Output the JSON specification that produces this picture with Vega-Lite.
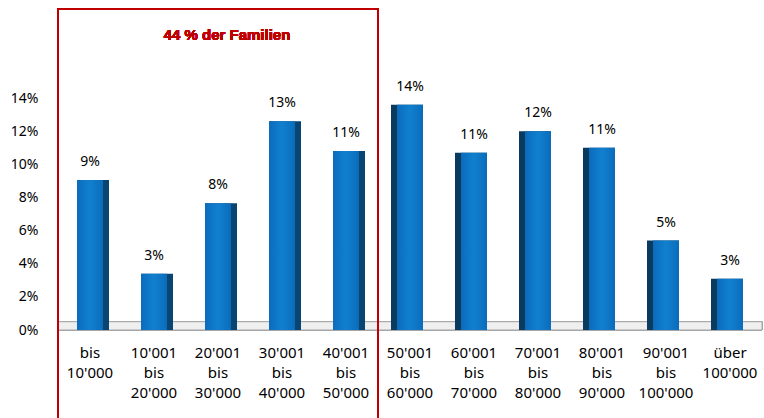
{
  "$schema": "https://vega.github.io/schema/vega-lite/v6.json",
  "width": 704,
  "height": 232,
  "autosize": {"type": "none"},
  "padding": {"left": 58, "top": 98, "right": 2, "bottom": 88},
  "background": "white",
  "config": {
    "view": {"stroke": null},
    "font": "Noto Sans",
    "axisX": {
      "title": null,
      "labelAngle": 0,
      "labelExpr": "split(datum.label, '|')",
      "domain": false,
      "ticks": false,
      "grid": false,
      "labelPadding": 15,
      "labelFontSize": 15,
      "labelLineHeight": 20,
      "labelColor": "#000000",
      "labelOverlap": false,
      "labelBaseline": "top",
      "labelFont": "Noto Sans"
    },
    "axisY": {
      "title": null,
      "format": ".0%",
      "values": [0, 0.02, 0.04, 0.06, 0.08, 0.1, 0.12, 0.14],
      "grid": false,
      "ticks": false,
      "domainColor": "#a6a6a6",
      "labelPadding": 20,
      "labelFontSize": 14,
      "labelColor": "#000000",
      "labelFont": "Noto Sans"
    }
  },
  "data": {
    "values": [
      {"kategorie": "bis|10'000", "anteil": 0.0905, "gruppe": "bis 50000"},
      {"kategorie": "10'001|bis|20'000", "anteil": 0.034, "gruppe": "bis 50000"},
      {"kategorie": "20'001|bis|30'000", "anteil": 0.0765, "gruppe": "bis 50000"},
      {"kategorie": "30'001|bis|40'000", "anteil": 0.126, "gruppe": "bis 50000"},
      {"kategorie": "40'001|bis|50'000", "anteil": 0.108, "gruppe": "bis 50000"},
      {"kategorie": "50'001|bis|60'000", "anteil": 0.136, "gruppe": "über 50000"},
      {"kategorie": "60'001|bis|70'000", "anteil": 0.107, "gruppe": "über 50000"},
      {"kategorie": "70'001|bis|80'000", "anteil": 0.12, "gruppe": "über 50000"},
      {"kategorie": "80'001|bis|90'000", "anteil": 0.11, "gruppe": "über 50000"},
      {"kategorie": "90'001|bis|100'000", "anteil": 0.054, "gruppe": "über 50000"},
      {"kategorie": "über|100'000", "anteil": 0.031, "gruppe": "über 50000"}
    ]
  },
  "layer": [
    {
      "mark": {"type": "rect", "fill": "#efefef", "stroke": "#a6a6a6", "strokeWidth": 1},
      "encoding": {
        "y": {"datum": 0, "type": "quantitative", "scale": {"domain": [0, 0.14], "nice": false}, "axis": {"title": null}},
        "y2": {"datum": 0.005}
      }
    },
    {
      "transform": [{"filter": {"field": "gruppe", "equal": "bis 50000"}}],
      "mark": {"type": "bar", "width": 32, "xOffset": 3, "color": "#0a4572"},
      "encoding": {
        "x": {
          "field": "kategorie",
          "type": "nominal",
          "scale": {
            "domain": ["bis|10'000", "10'001|bis|20'000", "20'001|bis|30'000", "30'001|bis|40'000", "40'001|bis|50'000", "50'001|bis|60'000", "60'001|bis|70'000", "70'001|bis|80'000", "80'001|bis|90'000", "90'001|bis|100'000", "über|100'000"],
            "paddingInner": 0,
            "paddingOuter": 0
          },
          "axis": {"title": null}
        },
        "y": {"field": "anteil", "type": "quantitative", "axis": {"title": null}}
      }
    },
    {
      "transform": [{"filter": {"field": "gruppe", "equal": "über 50000"}}],
      "mark": {"type": "bar", "width": 32, "xOffset": -3, "color": "#0a3a5e"},
      "encoding": {
        "x": {"field": "kategorie", "type": "nominal", "axis": {"title": null}},
        "y": {"field": "anteil", "type": "quantitative", "axis": {"title": null}}
      }
    },
    {
      "mark": {
        "type": "bar",
        "width": 26,
        "color": {
          "gradient": "linear", "x1": 0, "x2": 1, "y1": 0, "y2": 0,
          "stops": [
            {"offset": 0, "color": "#0a6cbb"},
            {"offset": 0.5, "color": "#1180cf"},
            {"offset": 1, "color": "#0a6cbb"}
          ]
        }
      },
      "encoding": {
        "x": {"field": "kategorie", "type": "nominal", "axis": {"title": null}},
        "y": {"field": "anteil", "type": "quantitative", "axis": {"title": null}}
      }
    },
    {
      "mark": {"type": "text", "baseline": "bottom", "dy": -11, "fontSize": 14, "color": "#000000"},
      "encoding": {
        "x": {"field": "kategorie", "type": "nominal", "axis": {"title": null}},
        "y": {"field": "anteil", "type": "quantitative", "axis": {"title": null}},
        "text": {"field": "anteil", "type": "quantitative", "format": ".0%"}
      }
    },
    {
      "mark": {"type": "rect", "filled": false, "stroke": "#c00000", "strokeWidth": 2},
      "encoding": {
        "x": {"datum": "bis|10'000", "type": "nominal", "bandPosition": 0, "axis": {"title": null}},
        "x2": {"datum": "40'001|bis|50'000", "bandPosition": 1},
        "y": {"datum": 0.1937, "type": "quantitative", "axis": {"title": null}},
        "y2": {"datum": -0.06}
      }
    },
    {
      "mark": {"type": "text", "text": "44 % der Familien", "font": "Liberation Sans", "fontWeight": "bold", "fontSize": 15, "color": "#c00000", "baseline": "middle", "dx": 9},
      "encoding": {
        "x": {"datum": "20'001|bis|30'000", "type": "nominal", "axis": {"title": null}},
        "y": {"datum": 0.178, "type": "quantitative", "axis": {"title": null}}
      }
    }
  ]
}
